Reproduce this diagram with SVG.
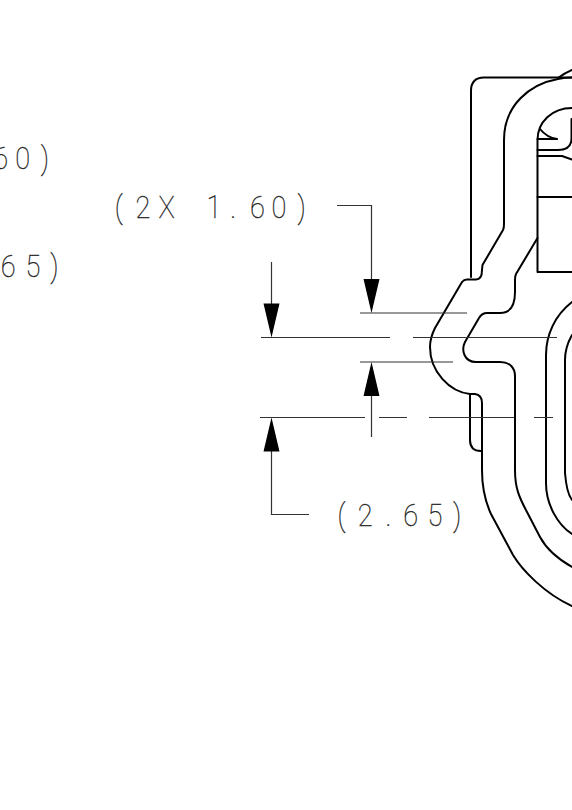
<svg xmlns="http://www.w3.org/2000/svg" width="572" height="810" viewBox="0 0 572 810">
<style>
.part{fill:none;stroke:#000;stroke-width:2;stroke-linejoin:round;stroke-linecap:round}
.dim{fill:none;stroke:#333;stroke-width:1.2}
.head{fill:#000;stroke:none}
.label{font-family:"Roboto","Liberation Sans",sans-serif;font-weight:100;font-size:32px;fill:#222;stroke:#222;stroke-width:.35}
</style>
<defs>
<polygon id="head-down" class="head" points="-8,-34 8,-34 0,0"/>
<polygon id="head-up" class="head" points="-8,34 8,34 0,0"/>
</defs>
<rect width="572" height="810" fill="#fff"/>
<g id="housing">
<path class="part" d="M572 77.5H484Q471 77.5 471 91V277"/>
<path class="part" d="M572 77.5Q565 77.5 558 79C530 84 504 105 504 140V224Q504 228 503 230L482.5 265L482 270Q482 279.5 476 279.5H467Q464 279.5 462 282L435 328C431 336 430 341 430 347C430 372 450 392 470 394H475Q482 395 482 403V470C482 486 485 501 491 514L513 555C522 570 545 594 572 606"/>
<path class="part" d="M558 78Q565 73 572 70"/>
<path class="part" d="M537.5 238L516 274Q515 276 515 280V292C515 306 510 313 500 313H487Q482 313 479 318L465 342C461 350 464 362 476 362H500C510 362 515 368 515 376V470C515 488 519 497 527 512L540 537C547 550 558 559 572 567"/>
<path class="part" d="M470 394V440Q470 451 481 451"/>
<path class="part" d="M572 302C555 315 546 335 546 355V483C546 505 558 525 572 534"/>
<path class="part" d="M572 335C568 342 565 350 565 360V473C566 485 568 495 572 500"/>
</g>
<g id="latch">
<path class="part" d="M572 272H537.5V140C537.5 122 552 108 572 108"/>
<path class="part" d="M540 129C544 134 550 138 557 139H537.5"/>
<path class="part" d="M537.5 150H558Q571.5 150 571.5 138V119"/>
<path class="part" d="M537.5 156H562L572 159.5"/>
<path class="part" d="M537.5 197H572"/>
</g>
<g id="connectors">
<path class="dim" d="M360 313H467M261 337.5H390M413 337.5H557M360 362H453M260 417.5H365M379 417.5H407M429 417.5H514M534 417.5H553"/>
<path class="dim" d="M337 205.500H371.500V280"/>
<path class="dim" d="M271.500 262V304"/>
<path class="dim" d="M371.500 395V437"/>
<path class="dim" d="M271.500 451V514.500H309"/>
<use href="#head-down" x="371.500" y="313"/>
<use href="#head-down" x="271.500" y="337.500"/>
<use href="#head-up" x="371.500" y="362"/>
<use href="#head-up" x="271.500" y="417.500"/>
</g>
<g id="labels">
<text class="label" transform="scale(.85,1)" y="169" x="-8 18 48">60)</text>
<text class="label" transform="scale(.85,1)" y="277" x="1 30 59">65)</text>
<text class="label" transform="scale(.85,1)" y="218" x="135 159.500 186.500 221 243 271 294 319.500 350">(2X 1.60)</text>
<text class="label" transform="scale(.85,1)" y="526" x="397 421 453.500 474.500 503 533">(2.65)</text>
</g>
</svg>
